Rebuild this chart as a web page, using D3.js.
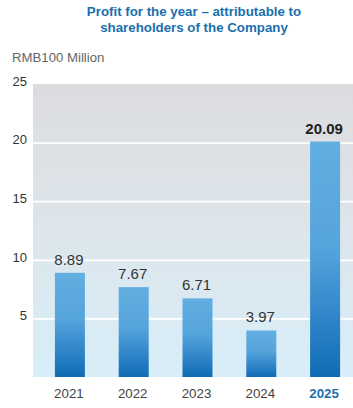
<!DOCTYPE html>
<html>
<head>
<meta charset="utf-8">
<script src="https://cdn.jsdelivr.net/npm/d3@7"></script>
<style>
  html, body { margin: 0; padding: 0; background: #fff; }
  svg { display: block; font-family: "Liberation Sans", Arial, Helvetica, sans-serif; }
</style>
</head>
<body>
<svg id="chart" width="353" height="408"></svg>
<script>
// Profit attributable to shareholders, RMB100 million
const years = ["2021", "2022", "2023", "2024", "2025"];
const profits = [8.89, 7.67, 6.71, 3.97, 20.09];
const valueLabels = ["8.89", "7.67", "6.71", "3.97", "20.09"];
const yTicks = [5, 10, 15, 20, 25];
const titleLines = ["Profit for the year \u2013 attributable to", "shareholders of the Company"];
const unitLabel = "RMB100 Million";
const highlightYear = "2025";

const svg = d3.select("#chart");
const plot = { left: 33, right: 353, top: 84, bottom: 377 };

const defs = svg.append("defs");
const bg = defs.append("linearGradient").attr("id", "bgGrad")
  .attr("x1", 0).attr("y1", 0).attr("x2", 0).attr("y2", 1);
bg.append("stop").attr("offset", "0%").attr("stop-color", "#dcdcdf");
bg.append("stop").attr("offset", "45%").attr("stop-color", "#dde5ea");
bg.append("stop").attr("offset", "100%").attr("stop-color", "#d8eef9");

const barGrad = defs.append("linearGradient").attr("id", "barGrad")
  .attr("x1", 0).attr("y1", 0).attr("x2", 0).attr("y2", 1);
barGrad.append("stop").attr("offset", "0%").attr("stop-color", "#62aee1");
barGrad.append("stop").attr("offset", "45%").attr("stop-color", "#55a4dc");
barGrad.append("stop").attr("offset", "80%").attr("stop-color", "#2a80c5");
barGrad.append("stop").attr("offset", "100%").attr("stop-color", "#0e6bb4");

const x = d3.scaleBand().domain(years).range([38, 357]).paddingInner(0.53).paddingOuter(0.265);
const y = d3.scaleLinear().domain([0, 25]).range([plot.bottom, plot.top]);

// Title
svg.append("g").selectAll("text").data(titleLines).join("text")
  .attr("x", 194).attr("y", (d, i) => 16 + i * 16)
  .attr("text-anchor", "middle")
  .attr("font-size", 13.3).attr("font-weight", "bold")
  .attr("fill", "#1b6fae")
  .text(d => d);

// Unit
svg.append("text").attr("x", 12).attr("y", 62)
  .attr("font-size", 13.2).attr("fill", "#666").text(unitLabel);

// Plot background
svg.append("rect")
  .attr("x", plot.left).attr("y", plot.top)
  .attr("width", plot.right - plot.left).attr("height", plot.bottom - plot.top)
  .attr("fill", "url(#bgGrad)");

// Gridlines + tick labels
const yAxis = d3.axisLeft(y).tickValues(yTicks).tickSize(0).tickPadding(0);
const gy = svg.append("g").attr("transform", `translate(${plot.left},0)`).call(yAxis);
gy.select(".domain").remove();
gy.selectAll(".tick line")
  .attr("x2", plot.right - plot.left)
  .attr("stroke", "#fff").attr("stroke-width", 1.8);
gy.selectAll(".tick").filter(d => d === 25).select("line").remove();
gy.selectAll(".tick text")
  .attr("x", -6).attr("dy", "0.1em")
  .attr("font-size", 13).attr("fill", "#333")
  .attr("font-family", "Liberation Sans, Arial, sans-serif");

// Bars
svg.append("g").selectAll("rect").data(profits).join("rect")
  .attr("x", (d, i) => x(years[i]))
  .attr("width", x.bandwidth())
  .attr("y", d => y(d))
  .attr("height", d => y(0) - y(d))
  .attr("fill", "url(#barGrad)");

// Value labels
svg.append("g").selectAll("text").data(profits).join("text")
  .attr("x", (d, i) => x(years[i]) + x.bandwidth() / 2 - 1)
  .attr("y", d => y(d) - 8)
  .attr("text-anchor", "middle")
  .attr("font-size", 15)
  .attr("font-weight", (d, i) => years[i] === highlightYear ? "bold" : "normal")
  .attr("fill", (d, i) => years[i] === highlightYear ? "#222" : "#333")
  .text((d, i) => valueLabels[i]);

// X axis labels
const xAxis = d3.axisBottom(x).tickSize(0).tickPadding(0);
const gx = svg.append("g").attr("transform", `translate(0,${plot.bottom})`).call(xAxis);
gx.select(".domain").remove();
gx.selectAll(".tick text")
  .attr("y", 21).attr("dy", 0)
  .attr("dx", -1)
  .attr("font-size", 13.3)
  .attr("font-family", "Liberation Sans, Arial, sans-serif")
  .attr("font-weight", d => d === highlightYear ? "bold" : "normal")
  .attr("fill", d => d === highlightYear ? "#1b6fae" : "#444");
</script>
</body>
</html>
